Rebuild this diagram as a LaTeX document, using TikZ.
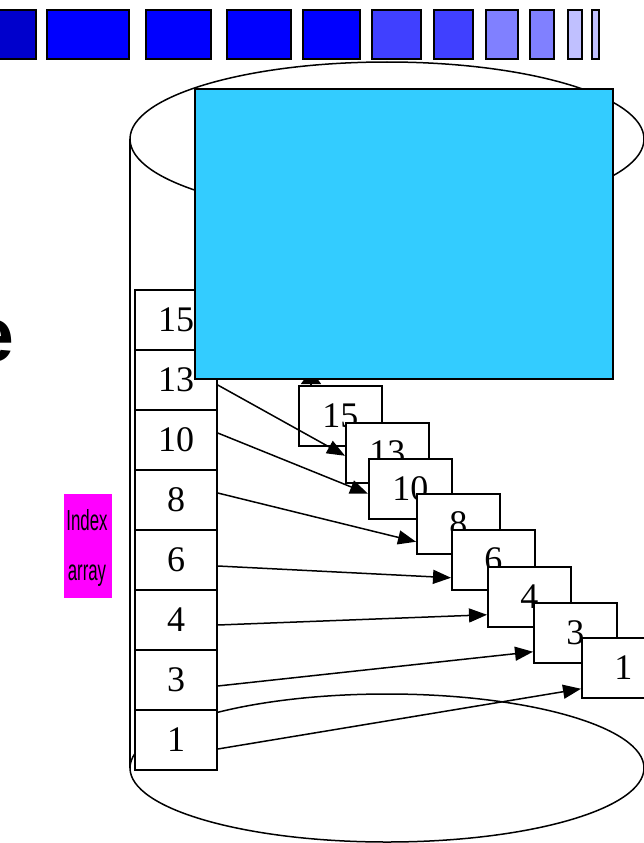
\documentclass[tikz,border=0pt]{standalone}
\usepackage{fontspec}
\setmainfont{Liberation Serif}
\newfontfamily\boldsans{Liberation Sans}
\newfontfamily\narrowsans[FakeStretch=0.58]{Liberation Sans}
\usetikzlibrary{arrows.meta,calc}
\definecolor{sky}{HTML}{33CCFF}
\definecolor{pinkbox}{HTML}{FF00FF}
\definecolor{bA}{HTML}{0000CC}
\definecolor{bB}{HTML}{0000FF}
\definecolor{bC}{HTML}{4040FF}
\definecolor{bD}{HTML}{8080FF}
\definecolor{bE}{HTML}{C0C0FF}
\begin{document}
\begin{tikzpicture}[x=1pt,y=-1pt,line width=1.5pt,
  sq/.style={draw=black,line width=1.5pt},
  cell/.style={draw,fill=white,minimum width=82pt,minimum height=60pt,inner sep=0pt,font=\fontsize{36}{36}\selectfont},
  box/.style={draw,fill=white,anchor=north west,minimum width=83pt,minimum height=60pt,inner sep=0pt,font=\fontsize{36}{36}\selectfont},
  arr/.style={-{Triangle[length=18pt,width=14pt]}},
  uparr/.style={-{Triangle[length=14pt,width=20pt]}},
  lbl/.style={anchor=base,inner sep=0pt,font=\narrowsans\fontsize{29}{29}\selectfont}]
\useasboundingbox (0,0) rectangle (643,843);
% top bar
\draw[sq,fill=bA] (-3,10) rectangle (36,59);
\draw[sq,fill=bB] (47,10) rectangle (129,59);
\draw[sq,fill=bB] (146,10) rectangle (211,59);
\draw[sq,fill=bB] (227,10) rectangle (291,59);
\draw[sq,fill=bB] (303,10) rectangle (360,59);
\draw[sq,fill=bC] (372,10) rectangle (421,59);
\draw[sq,fill=bC] (434,10) rectangle (473,59);
\draw[sq,fill=bD] (486,10) rectangle (518,59);
\draw[sq,fill=bD] (530,10) rectangle (554,59);
\draw[sq,fill=bE] (568,10) rectangle (582,59);
\draw[sq,fill=bE] (592,10) rectangle (599,59);
% cut-off title letter
\node[anchor=base east,inner sep=0pt,font=\boldsans\bfseries\fontsize{77}{77}\selectfont] (ttl) at (15,361) {e};
% cylinder
\draw (387,139) ellipse [x radius=257,y radius=77];
\draw (387,768) ellipse [x radius=257,y radius=74];
\draw (130,139) -- (130,768);
% index label
\node[fill=pinkbox,anchor=north west,minimum width=48pt,minimum height=104pt,inner sep=0pt] (ia) at (63,493) {};
\node[lbl] (ia1) at (87,530) {Index};
\node[lbl] (ia2) at (87,580) {array};
% index array
\node[cell] (c15) at (176,320) {15};
\node[cell] (c13) at (176,380) {13};
\node[cell] (c10) at (176,440) {10};
\node[cell] (c8) at (176,500) {8};
\node[cell] (c6) at (176,560) {6};
\node[cell] (c4) at (176,620) {4};
\node[cell] (c3) at (176,680) {3};
\node[cell] (c1) at (176,740) {1};
% records
\node[box] (b15) at (298,385) {15};
\node[box] (b13) at (345,422) {13};
\node[box] (b10) at (368,458) {10};
\node[box] (b8) at (416,493) {8};
\node[box] (b6) at (451,529) {6};
\node[box] (b4) at (487,566) {4};
\node[box] (b3) at (533,602) {3};
\node[box] (b1) at (581,637) {1};
% pointers
\draw[uparr] ($(b15.north west)+(13,0)$) -- ++(0,-15);
\draw[arr] ($(c13.east)+(0,5)$) -- ($(b13.west)+(0,3)$);
\draw[arr] ($(c10.east)+(0,-7)$) -- ($(b10.west)+(0,5)$);
\draw[arr] ($(c8.east)+(0,-7)$) -- ($(b8.west)+(0,18)$);
\draw[arr] ($(c6.east)+(0,6)$) -- ($(b6.west)+(0,18)$);
\draw[arr] ($(c4.east)+(0,5)$) -- ($(b4.west)+(0,18)$);
\draw[arr] ($(c3.east)+(0,6)$) -- ($(b3.west)+(0,19)$);
\draw[arr] ($(c1.east)+(0,9)$) -- ($(b1.west)+(0,21)$);
% overlay
\node[draw,fill=sky,anchor=north west,minimum width=418pt,minimum height=290pt,inner sep=0pt] (scr) at (194,88) {};
\end{tikzpicture}
\end{document}
